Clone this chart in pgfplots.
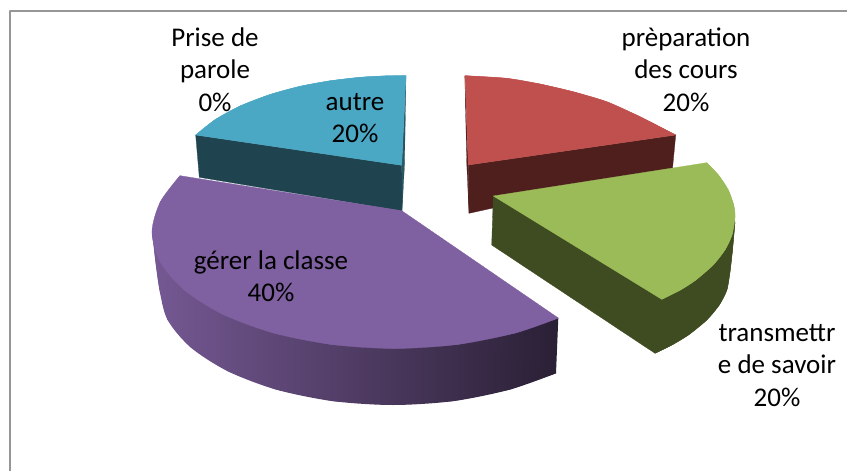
\documentclass[border=0pt]{standalone}
\usepackage{fontspec}
\usepackage{pgfplots}
\pgfplotsset{compat=1.18}
\setmainfont{Carlito}
\definecolor{redtop}{HTML}{C0504D}
\definecolor{redside}{HTML}{4F1F1E}
\definecolor{greentop}{HTML}{9BBB59}
\definecolor{greenside}{HTML}{3F4B20}
\definecolor{purpletop}{HTML}{7F60A0}
\definecolor{cyantop}{HTML}{4AA8C4}
\definecolor{cyanside}{HTML}{1F444F}
\definecolor{frame}{HTML}{969696}
\tikzset{lab/.style={font=\fontsize{27}{32}\selectfont, text=black, anchor=base, inner sep=0pt}}
\begin{document}
\begin{tikzpicture}
\path[use as bounding box] (0,0) rectangle (847pt,471pt);
\begin{axis}[
  width=847pt, height=471pt, scale only axis,
  xmin=0, xmax=847, ymin=0, ymax=471, y dir=reverse,
  hide axis, clip=true,
  every axis plot/.append style={line join=round},
]
% frame
\addplot[frame, line width=2pt] coordinates {(10,471)(10,10.5)(847,10.5)};
% cyan slice
\addplot[draw=cyanside, fill=cyanside, line width=0.3pt] coordinates {(195.7,135)(401.7,165.3)(402,211)(199.3,177.3)} -- cycle;
\addplot[draw=cyanside, fill=cyanside!80!cyantop, line width=0.2pt] coordinates {(406,76)(401.7,165.3)(402,211)(404.5,165)} -- cycle;
\addplot[draw=cyantop, fill=cyantop, line width=0.3pt] coordinates {(401.7,165.3)(195.7,135)(215,119.7)(240,106)(270,94.5)(300,86.3)(330,80.8)(360,77.3)(385,75.9)(406,75.7)} -- cycle;
\addplot[draw=cyantop, fill=cyantop, line width=0.3pt, smooth] coordinates {(195.7,135)(215,119.7)(240,106)(270,94.5)(300,86.3)(330,80.8)(360,77.3)(385,75.9)(406,75.7)};
% red slice
\addplot[draw=redside, fill=redside, line width=0.3pt] coordinates {(468.3,165)(675.7,135)(672.5,168.5)(469,213.3)} -- cycle;
\addplot[draw=redside, fill=redside, line width=0.2pt] coordinates {(464.8,76)(468.3,165)(469,213)(466.8,165)} -- cycle;
\addplot[draw=redtop, fill=redtop, line width=0.3pt] coordinates {(468.3,165)(465,75.7)(506.7,78.3)(540,84)(573,91.7)(606.7,101.7)(640,116.7)(675.7,135)} -- cycle;
\addplot[draw=redtop, fill=redtop, line width=0.3pt, smooth] coordinates {(465,75.7)(506.7,78.3)(540,84)(573,91.7)(606.7,101.7)(640,116.7)(675.7,135)};
% purple slice: side
\addplot[draw=none, left color=purpletop!92!black, middle color=purpletop!62!black, right color=purpletop!33!black] coordinates {(152.3,233)(155.5,262)(159.5,290)(167.5,319.8)(190.8,347.5)(227.9,371.3)(276.2,389.6)(332.6,401.1)(393,405)(453.4,401.1)(509.8,389.6)(556,373.3)(558.3,318)} -- cycle;
\addplot[draw=none, left color=purpletop!92!black, middle color=purpletop!62!black, right color=purpletop!33!black, smooth] coordinates {(152.3,233)(155.5,262)(159.5,290)(167.5,319.8)(190.8,347.5)(227.9,371.3)(276.2,389.6)(332.6,401.1)(393,405)(453.4,401.1)(509.8,389.6)(556,373.3)};
% purple slice: top
\addplot[draw=purpletop, fill=purpletop, line width=0.3pt] coordinates {(401.7,210.7)(558.3,318)(515.6,332.9)(457.1,344.5)(394.4,348.5)(331.7,344.5)(273.2,332.9)(223,314.4)(184.5,290.25)(160.3,262.2)(152,232)(160.3,201.9)(180,175.7)} -- cycle;
\addplot[draw=purpletop, fill=purpletop, line width=0.3pt, smooth] coordinates {(558.3,318)(515.6,332.9)(457.1,344.5)(394.4,348.5)(331.7,344.5)(273.2,332.9)(223,314.4)(184.5,290.25)(160.3,262.2)(152,232)(160.3,201.9)(180,175.7)};
% green slice
\addplot[draw=greenside, fill=greenside, line width=0.3pt] coordinates {(493.3,196)(491.7,245)(655,353.3)(671.9,345)(688.4,335)(706.8,320)(719.3,305)(726.9,290)(730,272)(732.5,250)(735,222)(706.7,170)} -- cycle;
\addplot[draw=greenside, fill=greenside, line width=0.3pt, smooth] coordinates {(735,222)(732.5,250)(730,272)(726.9,290)(719.3,305)(706.8,320)(688.4,335)(671.9,345)(655,353.3)};
\addplot[draw=greentop, fill=greentop, line width=0.3pt] coordinates {(493.3,196)(706.7,162.7)(718.4,175)(728.3,190)(733.7,205)(735,217)(732,235)(724.9,250)(713.1,265)(695.8,280)(680.4,290)(661.7,299.3)} -- cycle;
\addplot[draw=greentop, fill=greentop, line width=0.3pt, smooth] coordinates {(706.7,162.7)(718.4,175)(728.3,190)(733.7,205)(735,217)(732,235)(724.9,250)(713.1,265)(695.8,280)(680.4,290)(661.7,299.3)};
% labels
\node[lab] at (axis cs:215,46) {Prise de};
\node[lab] at (axis cs:215,78) {parole};
\node[lab] at (axis cs:215,111) {0\%};
\node[lab] at (axis cs:686,46) {prèparation};
\node[lab] at (axis cs:686,78) {des cours};
\node[lab] at (axis cs:686,111) {20\%};
\node[lab] at (axis cs:355,110) {autre};
\node[lab] at (axis cs:355,142) {20\%};
\node[lab] at (axis cs:271,269) {gérer la classe};
\node[lab] at (axis cs:271,301) {40\%};
\node[lab] at (axis cs:777,341) {transmettr};
\node[lab] at (axis cs:777,373) {e de savoir};
\node[lab] at (axis cs:777,406) {20\%};
\end{axis}
\end{tikzpicture}
\end{document}
